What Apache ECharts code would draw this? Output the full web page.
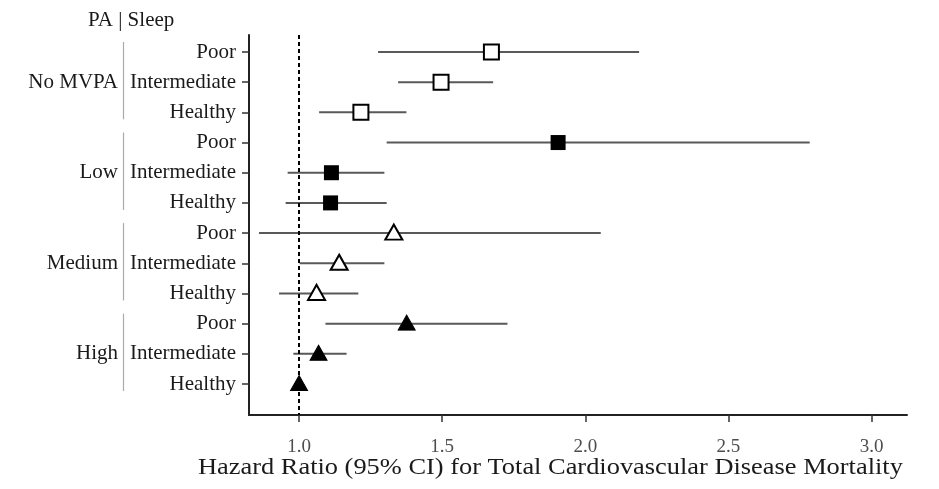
<!DOCTYPE html>
<html>
<head>
<meta charset="utf-8">
<script src="https://cdn.jsdelivr.net/npm/echarts@6/dist/echarts.min.js"></script>
<style>html,body{margin:0;padding:0;background:#fff}#c{width:939px;height:489px}</style>
</head>
<body>
<div id="c"></div>
<script>
// ---- data ----
const groups = ['No MVPA', 'Low', 'Medium', 'High'];
const sleepLabels = ['Poor', 'Intermediate', 'Healthy', 'Poor', 'Intermediate', 'Healthy',
                     'Poor', 'Intermediate', 'Healthy', 'Poor', 'Intermediate', 'Healthy'];
const hr    = [1.672, 1.496, 1.216, 1.905, 1.113, 1.110, 1.331, 1.140, 1.061, 1.376, 1.068, 1.000];
const lower = [1.276, 1.346, 1.070, 1.306, 0.960, 0.953, 0.860, 1.002, 0.930, 1.092, 0.980, 1.000];
const upper = [2.188, 1.678, 1.375, 2.784, 1.298, 1.306, 2.054, 1.298, 1.207, 1.728, 1.166, 1.000];
const xTicks = [1.0, 1.5, 2.0, 2.5, 3.0];
const xTitle = 'Hazard Ratio (95% CI) for Total Cardiovascular Disease Mortality';

const FONT = 'Liberation Serif';
const rows = sleepLabels.map((_, i) => i);
const ciData = rows.map(i => [lower[i], upper[i], i]);
function pts(g) { return [0, 1, 2].map(k => { const i = g * 3 + k; return [hr[i], i]; }); }
const groupMid = groups.map((_, g) => g * 3 + 1);

const chart = echarts.init(document.getElementById('c'), null, { renderer: 'canvas' });
const option = {
  animation: false,
  backgroundColor: '#fff',
  grid: { left: 249, right: 32, top: 35, bottom: 74, containLabel: false },
  xAxis: {
    type: 'value', min: 0.825, max: 3.124,
    splitLine: { show: false },
    axisLine: { show: true, onZero: false, lineStyle: { color: '#222', width: 2 } },
    axisTick: { show: true, length: 7, customValues: xTicks, lineStyle: { color: '#333', width: 1.5 } },
    axisLabel: { customValues: xTicks, formatter: v => v.toFixed(1), color: '#4d4d4d',
                 fontFamily: FONT, fontSize: 19, margin: 23 }
  },
  yAxis: [{
    type: 'value', inverse: true, min: -0.563, max: 12.027,
    splitLine: { show: false },
    axisLine: { show: true, onZero: false, lineStyle: { color: '#222', width: 2 } },
    axisTick: { show: true, length: 7, customValues: rows, lineStyle: { color: '#333', width: 1.5 } },
    axisLabel: { customValues: rows, formatter: v => sleepLabels[Math.round(v)] || '',
                 color: '#1a1a1a', fontFamily: FONT, fontSize: 21, margin: 13 }
  }, {
    type: 'value', inverse: true, min: -0.563, max: 12.027, position: 'left', offset: 120,
    splitLine: { show: false }, axisLine: { show: false }, axisTick: { show: false },
    axisLabel: { customValues: groupMid, formatter: v => groups[Math.round(v - 1) / 3] || '',
                 color: '#1a1a1a', fontFamily: FONT, fontSize: 21, margin: 11 }
  }],
  graphic: [{
    type: 'text', left: 88, top: 10,
    style: { text: 'PA | Sleep', fontFamily: FONT, fontSize: 21, fill: '#1a1a1a' }
  }, {
    type: 'text', left: 198, top: 456, scaleX: 1.1,
    style: { text: xTitle, fontFamily: FONT, fontSize: 24, fill: '#1a1a1a' }
  }],
  series: [{
    type: 'custom', name: 'ci', z: 2,
    data: ciData,
    encode: { x: [0, 1], y: 2 },
    renderItem: (params, api) => {
      const a = api.coord([api.value(0), api.value(2)]);
      const b = api.coord([api.value(1), api.value(2)]);
      return { type: 'line', shape: { x1: a[0], y1: a[1], x2: b[0], y2: b[1] },
               style: { stroke: '#595959', lineWidth: 2 } };
    },
    markLine: {
      silent: true, symbol: 'none', label: { show: false }, z: 3,
      lineStyle: { color: '#000', width: 2, type: [4, 3] },
      data: [{ xAxis: 1 }]
    }
  }, {
    type: 'custom', name: 'brackets', z: 1, clip: false,
    data: groups.map((_, g) => [g * 3, g * 3 + 2]),
    encode: { y: [0, 1] },
    renderItem: (params, api) => {
      const y1 = api.coord([1, api.value(0)])[1] - 10;
      const y2 = api.coord([1, api.value(1)])[1] + 7;
      const x = 123.5;
      return { type: 'line', shape: { x1: x, y1: y1, x2: x, y2: y2 },
               style: { stroke: '#aaaaaa', lineWidth: 1.2 } };
    }
  }, {
    type: 'scatter', z: 5, data: pts(0), symbol: 'rect', symbolSize: 15,
    itemStyle: { color: '#fff', borderColor: '#000', borderWidth: 2, opacity: 1 }
  }, {
    type: 'scatter', z: 5, data: pts(1), symbol: 'rect', symbolSize: 15,
    itemStyle: { color: '#000', borderColor: '#000', borderWidth: 0, opacity: 1 }
  }, {
    type: 'scatter', z: 5, data: pts(2), symbol: 'triangle', symbolSize: [17, 15], symbolOffset: [0, -1],
    itemStyle: { color: '#fff', borderColor: '#000', borderWidth: 2, opacity: 1 }
  }, {
    type: 'scatter', z: 5, data: pts(3), symbol: 'triangle', symbolSize: [17, 15], symbolOffset: [0, -1],
    itemStyle: { color: '#000', borderColor: '#000', borderWidth: 1, opacity: 1 }
  }]
};
chart.setOption(option);
</script>
</body>
</html>
